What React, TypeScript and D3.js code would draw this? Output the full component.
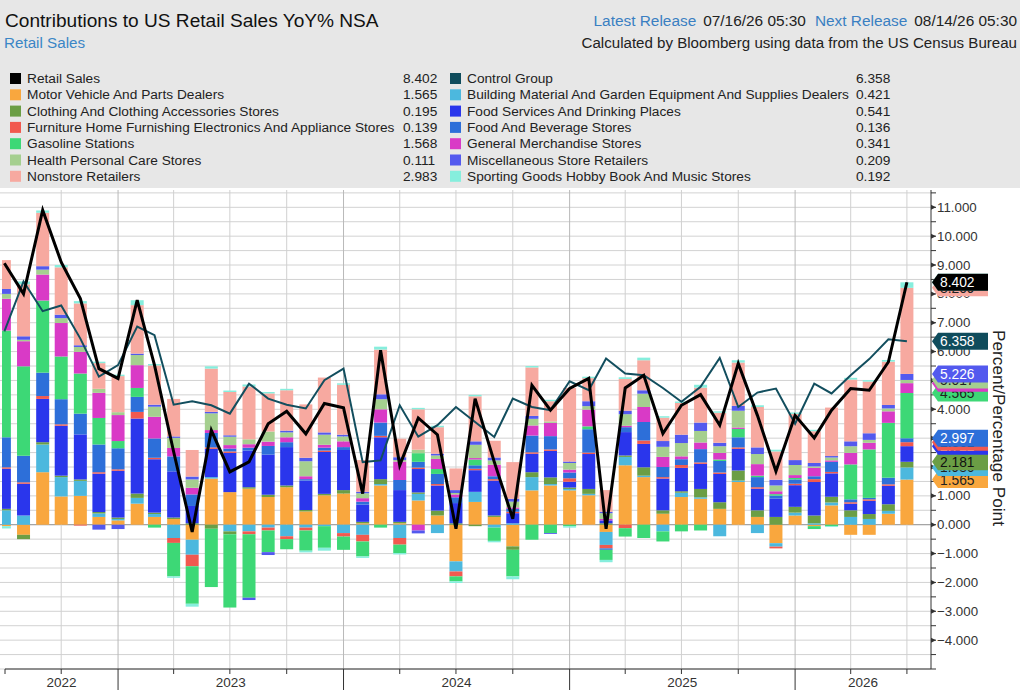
import React from 'react';
import * as d3 from 'd3';

// monthly observations, Jun 2022 .. Jun 2026, plotted at month end
const monthEnds = d3.timeMonth.range(new Date(2022, 6, 1), new Date(2026, 7, 1));

const retailSales = [9.06, 8.0, 10.9, 9.1, 7.84, 5.41, 5.07, 7.78, 5.53, 2.53, -0.25, 3.27, 1.83, 2.18, 3.5, 3.93, 3.15, 4.2, 4.05, 1.08, 6.05, 2.06, 3.7, 3.12, -0.14, 4.37, 2.18, 0.21, 4.83, 3.97, 4.72, 5.07, -0.14, 4.74, 5.18, 3.16, 4.14, 4.51, 3.45, 5.59, 3.79, 1.85, 3.79, 3.01, 3.97, 4.72, 4.66, 5.64, 8.402];
const controlGroup = [6.7, 8.43, 7.4, 7.6, 6.45, 5.13, 5.53, 6.87, 6.57, 4.16, 4.28, 4.14, 3.85, 4.89, 4.37, 4.16, 4.03, 5.01, 5.41, 2.17, 2.23, 4.14, 3.05, 3.45, 4.08, 3.56, 3.04, 4.37, 4.08, 3.97, 4.97, 4.66, 5.76, 5.24, 5.18, 4.74, 4.26, 4.78, 5.78, 4.08, 4.58, 4.72, 3.5, 4.89, 4.55, 5.18, 5.74, 6.43, 6.358];

const motor = [-0.05, -0.35, 1.82, 0.98, 1.0, 0.27, 0.15, 0.73, 0.27, 0.2, -0.52, 1.6, 1.13, 1.25, 0.96, 1.3, 0.46, 1.02, 1.08, 0.05, 1.36, 0.05, 0.84, 0.32, -1.27, 0.79, 0.27, -0.75, 1.19, 1.36, 1.19, 1.02, -0.25, 2.06, 1.65, 0.38, 0.96, 0.9, 0.55, 1.48, 0.27, -0.64, 0.32, -0.05, 0.67, -0.35, -0.35, 0.38, 1.565];
const building = [0.5, 0.32, 0.96, 0.67, 0.52, 0.12, 0.05, 0.2, 0.1, -0.46, -0.52, 0.05, -0.23, -0.23, -0.1, -0.4, -0.1, -0.05, -0.29, -0.35, 0.05, -0.46, 0.23, -0.29, -0.35, 0.35, -0.1, 0.05, 0.46, 0.05, 0.05, 0.05, -0.45, 0.29, 0.05, -0.23, 0.15, 0.05, -0.4, 0.05, -0.29, -0.12, 0.1, 0.05, 0.1, 0.27, 0.2, 0.1, 0.421];
const clothing = [0.05, -0.15, 0.08, 0.05, 0.05, 0.05, 0.05, 0.15, 0.05, 0.05, 0.05, -0.14, -0.1, 0.05, 0.08, 0.06, 0.05, 0.05, 0.12, 0.05, 0.17, 0.05, 0.05, 0.17, 0.05, -0.05, 0.05, -0.12, 0.17, 0.23, 0.05, 0.17, 0.05, 0.05, 0.29, 0.12, 0.05, 0.29, 0.23, 0.35, 0.23, 0.27, 0.2, 0.27, 0.2, 0.23, 0.17, 0.23, 0.195];
const foodServices = [1.39, 1.1, 1.5, 1.73, 1.56, 1.33, 1.62, 2.6, 1.85, 1.6, 0.6, 0.98, 1.36, 1.27, 1.39, 1.33, 1.02, 1.45, 1.39, 0.6, 1.45, 1.1, 0.81, 0.87, 0.7, 0.75, 1.21, 0.35, 0.64, 0.92, 0.2, 1.21, 0.1, 0.81, 0.81, 1.1, 0.81, 0.87, 0.98, 0.75, 0.75, 0.64, 0.75, 1.16, 0.81, 0.23, 0.46, 0.64, 0.541];
const furniture = [0.05, 0.05, 0.1, 0.05, -0.03, 0.05, 0.05, 0.23, 0.05, -0.17, -0.4, 0.05, 0.05, -0.1, -0.1, -0.1, -0.1, 0.05, -0.12, -0.23, 0.05, -0.23, 0.05, 0.05, -0.17, 0.05, 0.05, 0.05, 0.05, 0.05, 0.12, 0.05, -0.12, -0.12, 0.12, 0.05, 0.1, 0.05, 0.05, 0.05, 0.05, -0.06, 0.05, 0.1, 0.05, 0.05, 0.05, 0.05, 0.139];
const foodBeverage = [1.04, 0.92, 0.81, 0.87, 0.72, 0.96, 0.73, 0.52, 0.67, 0.52, 0.4, 0.5, 0.1, 0.1, 0.3, 0.17, 0.05, 0.1, 0.1, 0.1, 0.46, 0.35, 0.2, 0.35, 0.2, 0.12, 0.1, 0.1, 0.58, 0.46, 0.2, 0.81, -0.05, 0.17, 0.64, 0.35, 0.2, 0.46, 0.4, 0.35, 0.35, 0.1, 0.15, 0.1, 0.35, 0.1, 0.05, 0.23, 0.136];
const gasoline = [3.7, 3.1, 2.5, 1.48, 1.39, 0.92, 0.25, 0.31, -0.1, -1.16, -1.3, -2.02, -2.54, -2.2, -0.75, -0.35, -0.7, -0.75, -0.46, -0.52, -0.1, -0.29, 0.3, 0.17, -0.17, 0.2, -0.46, -0.92, -0.52, -0.29, -0.05, 0.1, -0.35, -0.29, -0.46, -0.35, -0.23, -0.2, 0.05, 0.29, 0.05, 0.05, 0.05, -0.1, -0.05, 1.21, 1.68, 1.9, 1.568];
const generalMerch = [1.1, 0.87, 0.9, 1.16, 0.75, 0.87, 0.9, 0.79, 0.75, 0.29, 0.23, 0.1, 0.12, 0.12, 0.15, 0.17, 0.1, 0.1, 0.2, 0.12, 0.46, 0.64, -0.2, 0.35, 0.1, 0.05, 0.4, 0.05, 0.35, 0.46, 0.1, 0.58, 0.05, 0.05, 0.52, 0.35, 0.1, 0.23, 0.23, 0.05, 0.4, 0.1, 0.1, 0.29, 0.05, 0.4, 0.23, 0.4, 0.341];
const health = [0.17, 0.05, 0.17, 0.17, 0.17, 0.14, 0.1, 0.35, 0.35, 0.35, 0.29, 0.58, 0.29, 0.17, 0.35, 0.17, 0.52, 0.35, 0.17, 0.17, 0.35, 0.05, 0.12, 0.12, 0.05, 0.46, 0.15, 0.2, 0.23, 0.05, 0.23, 0.12, 0.2, 0.4, 0.46, 0.35, 0.46, 0.4, 0.23, 0.58, 0.35, 0.2, 0.35, 0.05, 0.1, 0.23, 0.1, 0.1, 0.111];
const miscStores = [0.17, 0.12, 0.12, 0.12, 0.06, -0.17, -0.15, 0.05, 0.07, 0.05, 0.1, 0.05, 0.05, -0.08, -0.1, 0.06, 0.12, 0.08, 0.06, 0.05, 0.17, 0.1, -0.1, 0.06, 0.1, 0.12, 0.1, 0.1, 0.1, -0.03, 0.05, 0.17, 0.05, 0.12, 0.12, 0.2, 0.29, 0.29, 0.12, 0.17, 0.23, 0.2, 0.17, 0.12, 0.05, 0.17, 0.23, 0.12, 0.209];
const nonstore = [1.0, 1.8, 1.85, 1.64, 1.45, 0.89, 1.25, 1.68, 1.36, 1.3, 0.92, 1.5, 1.5, 1.83, 1.32, 1.4, 1.85, 1.9, 1.73, 1.1, 1.55, 0.64, 1.4, 0.92, 0.75, 1.56, 0.58, 1.27, 1.68, 0.7, 2.55, 0.8, 0.75, 1.1, 1.04, 0.81, 1.1, 1.21, 1.04, 1.5, 1.4, 0.98, 1.6, 1.1, 1.68, 2.14, 1.79, 1.5, 2.983];
const sporting = [-0.08, 0.1, 0.08, 0.08, 0.08, 0.05, 0.05, 0.17, 0.05, -0.05, -0.1, 0.08, 0.05, 0.07, 0.05, 0.05, -0.06, -0.1, 0.05, -0.05, 0.1, -0.05, 0.05, 0.05, -0.06, 0.05, -0.05, -0.1, 0.05, 0.05, -0.05, 0.05, -0.08, 0.06, 0.09, 0.05, 0.05, 0.1, 0.05, 0.08, 0.06, 0.06, 0.05, 0.05, -0.03, 0.06, 0.05, 0.06, 0.192];

const yMajorTicks = [-4, -3, -2, -1, 0, 1, 2, 3, 4, 5, 6, 7, 8, 9, 10, 11];
const yearLabels = ['2022', '2023', '2024', '2025', '2026'];

interface Series {
  key: string;
  label: string;
  color: string;
  ink: string;
  values: number[];
}

// stacking order, bottom to top
const components: Series[] = [
  { key: 'motor', label: 'Motor Vehicle And Parts Dealers', color: '#F9A73E', ink: '#222', values: motor },
  { key: 'building', label: 'Building Material And Garden Equipment And Supplies Dealers', color: '#4CB8DE', ink: '#222', values: building },
  { key: 'clothing', label: 'Clothing And Clothing Accessories Stores', color: '#6B9E45', ink: '#111', values: clothing },
  { key: 'foodServ', label: 'Food Services And Drinking Places', color: '#2A36EC', ink: '#fff', values: foodServices },
  { key: 'furniture', label: 'Furniture Home Furnishing Electronics And Appliance Stores', color: '#F1594F', ink: '#222', values: furniture },
  { key: 'foodBev', label: 'Food And Beverage Stores', color: '#2D6FD9', ink: '#fff', values: foodBeverage },
  { key: 'gas', label: 'Gasoline Stations', color: '#3DD876', ink: '#222', values: gasoline },
  { key: 'genMerch', label: 'General Merchandise Stores', color: '#D93AC6', ink: '#fff', values: generalMerch },
  { key: 'health', label: 'Health Personal Care Stores', color: '#A5CF8F', ink: '#222', values: health },
  { key: 'misc', label: 'Miscellaneous Store Retailers', color: '#5359EE', ink: '#fff', values: miscStores },
  { key: 'nonstore', label: 'Nonstore Retailers', color: '#F7A9A0', ink: '#222', values: nonstore },
  { key: 'sporting', label: 'Sporting Goods Hobby Book And Music Stores', color: '#86EEDD', ink: '#222', values: sporting },
];

const retailSeries: Series = { key: 'retail', label: 'Retail Sales', color: '#000000', ink: '#fff', values: retailSales };
const controlSeries: Series = { key: 'control', label: 'Control Group', color: '#0F4C5C', ink: '#fff', values: controlGroup };

const byKey = (k: string) => components.find(c => c.key === k)!;
const legendLeft: Series[] = [retailSeries, byKey('motor'), byKey('clothing'), byKey('furniture'), byKey('gas'), byKey('health'), byKey('nonstore')];
const legendRight: Series[] = [controlSeries, byKey('building'), byKey('foodServ'), byKey('foodBev'), byKey('genMerch'), byKey('misc'), byKey('sporting')];

const FONT = '"Liberation Sans", Arial, sans-serif';

const plot = { left: 5, right: 931, top: 190, bottom: 669 };

const App: React.FC = () => {
  const x = d3.scaleTime()
    .domain([new Date(2022, 6, 2), new Date(2026, 7, 9)])
    .range([plot.left, plot.right]);
  const y = d3.scaleLinear().domain([-5, 11.6]).range([plot.bottom, plot.top]);

  const rows = monthEnds.map((d, i) => {
    const r: Record<string, number> = {};
    components.forEach(c => { r[c.key] = c.values[i]; });
    return r;
  });
  const stacked = d3.stack<Record<string, number>>()
    .keys(components.map(c => c.key))
    .offset(d3.stackOffsetDiverging)(rows);

  const barW = 13;
  const line = d3.line<number>()
    .x((_, i) => x(monthEnds[i]))
    .y(v => y(v));

  const minorTicks = d3.range(-5, 11.6, 0.5);
  const quarters = d3.timeMonth.every(3)!.range(new Date(2022, 7, 1), new Date(2026, 7, 9));
  const domain = x.domain();
  const yearSpans = yearLabels.map(lbl => {
    const yr = +lbl;
    const a = Math.max(+new Date(yr, 0, 1), +domain[0]);
    const b = Math.min(+new Date(yr + 1, 0, 1), +domain[1]);
    return { lbl, cx: (x(new Date(a)) + x(new Date(b))) / 2 };
  });

  const last = monthEnds.length - 1;
  // cumulative top of each stacked segment at the latest month
  const tagList = stacked.map((layer, k) => ({ s: components[k], v: layer[last][1] }));
  tagList.push({ s: controlSeries, v: controlGroup[last] });
  const orderedTags = [...tagList].sort((a, b) => a.v - b.v);
  orderedTags.push({ s: retailSeries, v: retailSales[last] }); // retail on top

  const rowY = (i: number) => 78 + i * 16.3;

  return (
    <div style={{ position: 'absolute', left: 0, top: 0, width: 1020, height: 690, background: '#fff' }}>
      <svg width={1020} height={690} style={{ display: 'block', fontFamily: FONT }}>
        <defs>
          <clipPath id="plotClip">
            <rect x={2} y={plot.top} width={plot.right - 2} height={plot.bottom - plot.top} />
          </clipPath>
        </defs>

        {/* header */}
        <rect x={0} y={0} width={1020} height={188} fill="#E7E7E7" />
        <text x={5} y={27} fontSize={19.1} fill="#111">Contributions to US Retail Sales YoY% NSA</text>
        <text x={4} y={48} fontSize={15.2} fill="#3B86C6">Retail Sales</text>
        <text x={1017} y={26} fontSize={15.4} textAnchor="end" fill="#222">
          <tspan fill="#3A7FC2">Latest Release</tspan>
          <tspan dx={7}>07/16/26 05:30</tspan>
          <tspan dx={9} fill="#3A7FC2">Next Release</tspan>
          <tspan dx={7}>08/14/26 05:30</tspan>
        </text>
        <text x={1017} y={48} fontSize={15.1} textAnchor="end" fill="#222">
          Calculated by Bloomberg using data from the US Census Bureau
        </text>

        {/* legend */}
        {legendLeft.map((s, i) => (
          <g key={s.key}>
            <rect x={10} y={rowY(i) - 5} width={11} height={11} fill={s.color} />
            <text x={27} y={rowY(i) + 5} fontSize={13.7} fill="#222">{s.label}</text>
            <text x={403} y={rowY(i) + 5} fontSize={13.7} fill="#222">{s.values[last].toFixed(3)}</text>
          </g>
        ))}
        {legendRight.map((s, i) => (
          <g key={s.key}>
            <rect x={450} y={rowY(i) - 5} width={11} height={11} fill={s.color} />
            <text x={467} y={rowY(i) + 5} fontSize={13.7} fill="#222">{s.label}</text>
            <text x={856} y={rowY(i) + 5} fontSize={13.7} fill="#222">{s.values[last].toFixed(3)}</text>
          </g>
        ))}

        {/* grid */}
        {minorTicks.map(t => (
          <line key={'h' + t} x1={0} x2={plot.right} y1={y(t)} y2={y(t)}
            stroke={t === 0 ? '#8c8c8c' : '#d2d2d2'} strokeWidth={1} />
        ))}
        {quarters.map(q => (
          <line key={'v' + +q} x1={x(q)} x2={x(q)} y1={plot.top} y2={plot.bottom}
            stroke={q.getMonth() === 0 ? '#b9b9b9' : '#d0d0d0'} strokeWidth={1} />
        ))}

        {/* bars */}
        <g clipPath="url(#plotClip)">
          {stacked.map((layer, k) => (
            <g key={components[k].key} fill={components[k].color}>
              {layer.map((p, i) => {
                const y0 = y(p[0]);
                const y1 = y(p[1]);
                return (
                  <rect key={i} x={x(monthEnds[i]) - barW / 2} y={Math.min(y0, y1)}
                    width={barW} height={Math.abs(y0 - y1)} />
                );
              })}
            </g>
          ))}
          <path d={line(controlGroup) || ''} fill="none" stroke="#124E5E" strokeWidth={2} />
          <path d={line(retailSales) || ''} fill="none" stroke="#000" strokeWidth={3} />
        </g>

        {/* x axis */}
        <line x1={plot.left} x2={plot.right} y1={plot.bottom} y2={plot.bottom} stroke="#333" />
        <line x1={plot.left} x2={plot.left} y1={plot.bottom} y2={plot.bottom + 5} stroke="#333" />
        {quarters.map(q => (
          <line key={'xt' + +q} x1={x(q)} x2={x(q)} y1={plot.bottom}
            y2={q.getMonth() === 0 ? 690 : plot.bottom + 5} stroke="#333" />
        ))}
        {yearSpans.map(ys => (
          <text key={ys.lbl} x={ys.cx} y={687} fontSize={13.5} textAnchor="middle" fill="#333">{ys.lbl}</text>
        ))}

        {/* y axis on the right */}
        <line x1={plot.right} x2={plot.right} y1={plot.top} y2={plot.bottom} stroke="#333" />
        {minorTicks.map(t => (
          <line key={'yt' + t} x1={plot.right} x2={plot.right + 5} y1={y(t)} y2={y(t)} stroke="#333" />
        ))}
        {yMajorTicks.map(t => (
          <g key={'yl' + t}>
            <path d={`M${plot.right},${y(t) - 2.5}L${plot.right + 5},${y(t)}L${plot.right},${y(t) + 2.5}Z`} fill="#333" />
            <text x={937} y={y(t) + 4.5} fontSize={13.3} fill="#333">{d3.format('.3f')(t)}</text>
          </g>
        ))}
        <text transform={`translate(993,428) rotate(90)`} fontSize={17.2} textAnchor="middle" fill="#222">
          Percent/Percentage Point
        </text>

        {/* last value tags */}
        {orderedTags.map(({ s, v }) => {
          const ty = y(v);
          const h = 8.5;
          return (
            <g key={'tag' + s.key}>
              <path d={`M${plot.right + 1},${ty}L${plot.right + 7},${ty - h}L988,${ty - h}L988,${ty + h}L${plot.right + 7},${ty + h}Z`}
                fill={s.color} />
              <text x={940} y={ty + 5} fontSize={13.8} fill={s.ink}>{v.toFixed(3)}</text>
            </g>
          );
        })}
      </svg>
    </div>
  );
};

export default App;
